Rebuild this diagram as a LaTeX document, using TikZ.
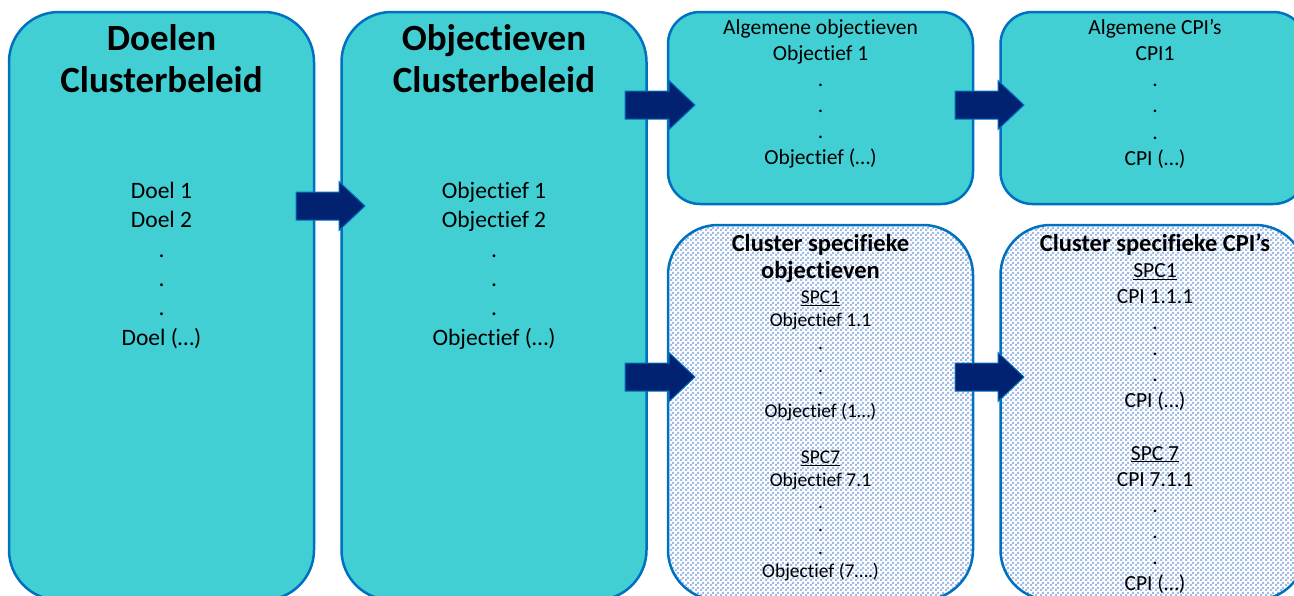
\documentclass[tikz,border=0pt]{standalone}
\usepackage{fontspec}
\setmainfont{Carlito}[Ligatures=NoCommon]
\usetikzlibrary{positioning,calc,patterns.meta}

\definecolor{boxfill}{RGB}{65,207,212}
\definecolor{boxline}{RGB}{0,112,192}
\definecolor{arrowfill}{RGB}{0,34,112}
\definecolor{checkblue}{RGB}{160,188,230}

% fijn dambordpatroon voor de specifieke blokken
\tikzdeclarepattern{
  name=smallchecks, type=uncolored,
  bottom left={(0pt,0pt)}, top right={(5pt,5pt)},
  tile size={(5pt,5pt)},
  code={
    \fill (0pt,0pt) rectangle (2.5pt,2.5pt);
    \fill (2.5pt,2.5pt) rectangle (5pt,5pt);
  }
}

\begin{document}
\begin{tikzpicture}[
    x=1pt, y=-1pt, % pixelcoordinaten, y naar beneden
    bigbox/.style={draw=boxline, line width=2.5pt, fill=boxfill,
      rounded corners=50pt, minimum width=305pt, minimum height=588pt, inner sep=0pt},
    smallbox/.style={draw=boxline, line width=2.5pt, fill=boxfill,
      rounded corners=32pt, minimum width=305pt, minimum height=192pt, inner sep=0pt},
    patbox/.style={draw=boxline, line width=2.5pt, preaction={fill=white},
      pattern={smallchecks}, pattern color=checkblue,
      rounded corners=50pt, minimum width=305pt, minimum height=375pt, inner sep=0pt},
    titletext/.style={font=\bfseries\fontsize{37}{42}\selectfont, align=center, inner sep=0pt},
    listtext/.style={font=\fontsize{23.5}{29.4}\selectfont, align=center, inner sep=0pt},
    smalltext/.style={font=\fontsize{21.5}{26.1}\selectfont, align=center, inner sep=0pt},
    spectitle/.style={font=\bfseries\fontsize{24.5}{27}\selectfont, align=center, inner sep=0pt},
    spectext/.style={font=\fontsize{19.5}{22.8}\selectfont, align=center, inner sep=0pt},
    blockarrow/.style={draw=boxline, line width=1pt, fill=arrowfill,
      to path={($(\tikztostart)+(0,-14)$) -- ($(\tikztotarget)+(-26,-14)$)
        -- ($(\tikztotarget)+(-26,-24.5)$) -- (\tikztotarget)
        -- ($(\tikztotarget)+(-26,24.5)$) -- ($(\tikztotarget)+(-26,14)$)
        -- ($(\tikztostart)+(0,14)$) -- cycle}}
    ]
    \useasboundingbox (0,0) rectangle (1294,595);
    \clip (0,0) rectangle (1294,595);

    % --- blokken ---
    \node[bigbox] (doelen) at (161.5,306) {};
    \node[bigbox, right=25pt of doelen] (objdoel) {};
    \node[smallbox] (algobj) at (820.5,108) {};
    \node[smallbox, right=25pt of algobj] (algcpi) {};
    \node[patbox] (specobj) at (820.5,412.5) {};
    \node[patbox, right=25pt of specobj] (speccpi) {};

    % --- teksten ---
    \node[titletext, below=13.5pt of doelen.north] (doelentitle) {Doelen\\Clusterbeleid};
    \node[listtext, below=171pt of doelen.north] (doelenlist)
      {Doel 1\\Doel 2\\.\\.\\.\\Doel (…)};

    \node[titletext, below=13.5pt of objdoel.north] (objdoeltitle) {Objectieven\\Clusterbeleid};
    \node[listtext, below=171pt of objdoel.north] (objdoellist)
      {Objectief 1\\Objectief 2\\.\\.\\.\\Objectief (…)};

    \node[smalltext, below=8.5pt of algobj.north] (algobjlist)
      {Algemene objectieven\\Objectief 1\\.\\.\\.\\Objectief (…)};
    \node[smalltext, below=8.5pt of algcpi.north, xshift=2pt] (algcpilist)
      {Algemene CPI’s\\CPI1\\.\\.\\.\\CPI (…)};

    \node[spectitle, below=10pt of specobj.north] (specobjtitle)
      {Cluster specifieke\\objectieven};
    \node[spectext, below=67pt of specobj.north] (specobjlist)
      {\underline{SPC1}\\Objectief 1.1\\.\\.\\.\\Objectief (1…)\\[22.8pt]
       \underline{SPC7}\\Objectief 7.1\\.\\.\\.\\Objectief (7….)};

    \node[spectitle, below=10pt of speccpi.north, xshift=2pt] (speccpititle)
      {Cluster specifieke CPI’s};
    \node[smalltext, below=39.5pt of speccpi.north, xshift=2pt] (speccpilist)
      {\underline{SPC1}\\CPI 1.1.1\\.\\.\\.\\CPI (…)\\[26.1pt]
       \underline{SPC 7}\\CPI 7.1.1\\.\\.\\.\\CPI (…)};

    % --- pijlen ---
    \coordinate (a1s) at (296,206);  \coordinate (a1e) at (365,206);
    \coordinate (a2s) at (625,105);  \coordinate (a2e) at (695,105);
    \coordinate (a3s) at (625,377);  \coordinate (a3e) at (695,377);
    \coordinate (a4s) at (955,105);  \coordinate (a4e) at (1024,105);
    \coordinate (a5s) at (955,377);  \coordinate (a5e) at (1024,377);
    \foreach \n in {1,...,5} {
        \draw[blockarrow] (a\n s) to (a\n e);
    }
\end{tikzpicture}
\end{document}
